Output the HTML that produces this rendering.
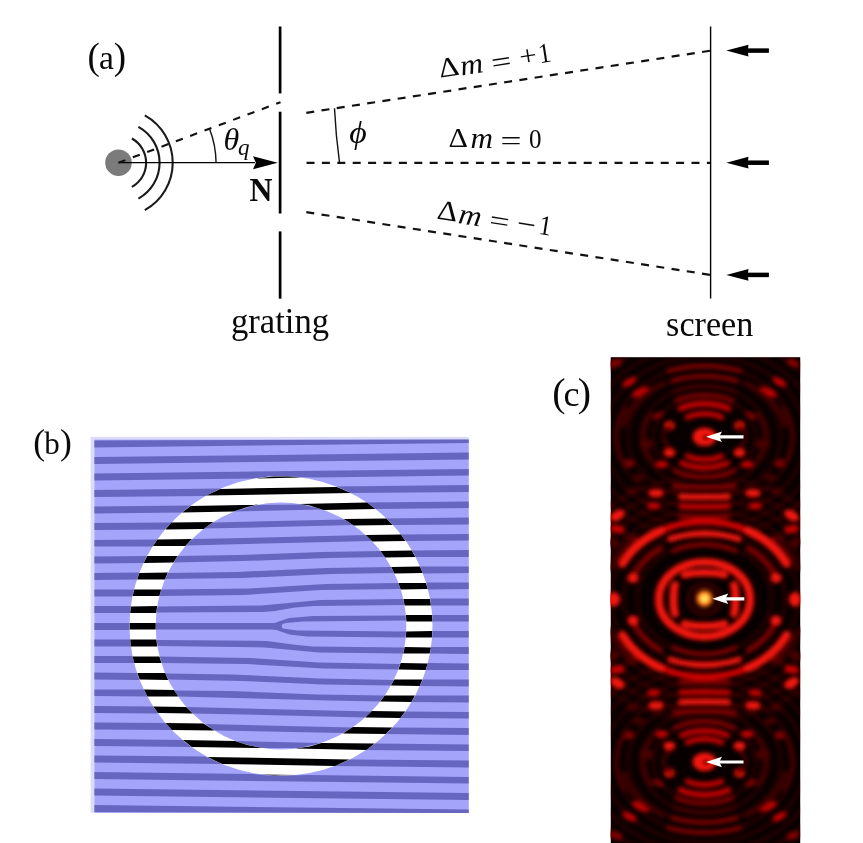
<!DOCTYPE html>
<html><head><meta charset="utf-8">
<style>
html,body{margin:0;padding:0;background:#fff;width:863px;height:843px;overflow:hidden}
svg{display:block}
text{font-family:"Liberation Serif", serif;fill:#0a0a0a}
</style></head><body>
<svg width="863" height="843" viewBox="0 0 863 843">
<rect width="863" height="843" fill="#fff"/>

<circle cx="118.5" cy="162.7" r="13.3" fill="#7b7b7b"/>
<path d="M131.9,138.5 A27.7,27.7 0 0 1 131.9,186.9" fill="none" stroke="#1a1a1a" stroke-width="2.1"/>
<path d="M138.4,126.8 A41.0,41.0 0 0 1 138.4,198.6" fill="none" stroke="#1a1a1a" stroke-width="2.1"/>
<path d="M144.8,115.3 A54.2,54.2 0 0 1 144.8,210.1" fill="none" stroke="#1a1a1a" stroke-width="2.1"/>
<line x1="118.5" y1="162.7" x2="255" y2="162.7" stroke="#000" stroke-width="1.3"/>
<path d="M277.7,162.7 L253,156.3 L255.9,162.7 L253,169.3 Z" fill="#000"/>
<line x1="118.5" y1="162.7" x2="280.5" y2="102.2" stroke="#111" stroke-width="2.1" stroke-dasharray="7.4 7.9"/>
<g stroke="#000" stroke-width="2.7">
<line x1="280.1" y1="26.5" x2="280.1" y2="93.4"/>
<line x1="280.1" y1="111.7" x2="280.1" y2="213.5"/>
<line x1="280.1" y1="231.4" x2="280.1" y2="298.7"/>
</g>
<path d="M216.1,163 A97.5,97.5 0 0 0 209.4,128.6" fill="none" stroke="#111" stroke-width="1.4"/>
<g stroke="#111" stroke-width="2.2" stroke-dasharray="8 7.4">
<line x1="306.5" y1="162.9" x2="710.5" y2="162.9"/>
<line x1="306.3" y1="112.8" x2="710.5" y2="50.7"/>
<line x1="306.3" y1="212.2" x2="710.5" y2="274.9"/>
</g>
<path d="M339.5,162.7 Q335.8,135.5 334.5,108.3" fill="none" stroke="#111" stroke-width="1.4"/>
<line x1="710.6" y1="26.6" x2="710.6" y2="298.5" stroke="#000" stroke-width="1.4"/>
<path d="M726.3,50.6 L748.5,44.7 Q747,50.6 748.5,56.5 Z" fill="#000"/><rect x="746" y="48.35" width="22.9" height="4.5" fill="#000"/>
<path d="M726.3,162.7 L748.5,156.79999999999998 Q747,162.7 748.5,168.6 Z" fill="#000"/><rect x="746" y="160.45" width="22.9" height="4.5" fill="#000"/>
<path d="M726.3,274.9 L748.5,269.0 Q747,274.9 748.5,280.79999999999995 Z" fill="#000"/><rect x="746" y="272.65" width="22.9" height="4.5" fill="#000"/>
<rect x="90.6" y="436.8" width="378.1" height="376.1" fill="#dcdcf8"/>
<rect x="94.5" y="439.6" width="374.2" height="373.3" fill="#a4a4fa"/>
<path d="M94.4,805.1 94.4,812.1 468.7,812.9 468.7,809.4ZM94.4,788.6 94.4,795.6 468.7,799.9 468.7,793.1ZM94.4,772.1 94.4,779.1 468.7,783.6 468.7,776.9 308.9,774.9 273.9,775.9 251.2,773.9ZM335.4,765.9 468.7,767.4 468.7,760.6 350.2,759.4ZM94.4,755.6 94.4,762.6 221.7,763.9 205.2,756.6ZM365.9,750.1 468.7,751.1 468.7,744.4 375.2,743.4ZM235.9,741.1 247.4,744.9 261.4,747.9 298.9,748.1 320.7,742.9ZM94.4,739.1 94.4,745.9 191.4,746.9 182.4,739.9ZM385.9,734.1 468.7,734.9 468.7,728.1 392.4,727.6ZM205.2,724.1 214.2,730.4 343.2,733.1 352.4,727.4ZM94.4,722.4 94.4,729.4 171.9,730.1 165.4,723.1ZM400.7,717.9 468.7,718.6 468.7,711.9 405.7,711.4ZM186.7,707.1 192.7,713.4 365.2,717.4 371.4,711.4ZM94.4,705.9 94.4,712.9 157.9,713.4 152.9,706.4ZM411.7,701.9 468.7,702.4 468.7,695.6 415.4,695.4ZM174.2,690.4 178.2,696.4 329.7,700.6 380.2,701.4 384.4,695.6 317.4,694.4 230.4,691.1ZM94.4,689.4 94.4,696.1 147.2,696.6 143.7,689.6ZM419.9,685.9 468.7,686.4 468.7,679.6 422.7,679.4ZM165.4,673.4 168.2,679.6 242.2,680.9 323.9,684.4 390.7,685.4 393.7,679.9 320.2,678.4 231.7,674.4ZM94.4,672.6 94.4,679.6 139.4,679.9 136.9,672.9ZM425.9,669.9 468.7,670.1 468.7,663.4 427.9,663.1ZM159.7,656.6 161.7,662.9 246.9,664.1 323.7,668.4 398.2,669.4 400.2,663.9 318.9,662.4 248.9,657.9ZM94.4,656.1 94.4,663.1 134.2,663.1 132.4,656.1ZM429.9,653.6 468.7,653.9 468.7,647.1 431.2,647.1ZM156.7,639.9 157.4,646.1 264.7,647.4 319.2,652.4 403.2,653.4 404.2,647.4 312.9,646.4 296.9,645.1 266.9,640.9ZM94.4,639.4 94.4,646.4 130.7,646.4 129.9,639.4ZM432.4,630.9 432.2,637.6 468.7,637.6 468.7,630.9ZM94.4,622.9 94.4,629.9 129.4,629.9 129.4,622.9ZM406.2,620.6 405.7,615.4 313.2,615.9 289.2,617.9 274.4,622.9 155.9,623.1 155.9,629.4 271.9,629.6 276.4,630.1 289.4,634.6 306.7,636.4 405.7,637.4 406.2,631.4 297.2,630.6 282.9,628.6 281.9,627.4 281.9,625.1 282.7,623.9 286.2,622.9 302.9,621.6ZM432.2,614.9 432.7,621.6 468.7,621.6 468.7,614.9ZM94.4,613.1 129.9,613.1 130.7,606.1 94.4,606.1ZM404.4,604.9 403.2,599.1 320.4,600.1 261.4,605.4 157.4,606.4 156.7,612.6 263.9,611.9 274.7,611.1 295.2,607.6 313.9,606.1ZM430.2,598.6 431.2,605.4 468.7,605.4 468.7,598.6ZM133.9,589.4 94.4,589.6 94.4,596.6 132.4,596.4ZM400.4,588.9 398.4,583.1 325.7,584.1 249.7,588.4 161.4,589.6 159.7,595.9 243.9,594.9 320.7,590.1ZM468.7,589.1 468.7,582.4 426.2,582.6 427.9,589.4ZM139.4,572.6 94.4,572.9 94.4,579.9 136.9,579.6ZM394.2,573.1 390.9,567.1 326.2,568.1 236.9,571.9 167.9,572.9 165.2,579.1 243.2,577.9 331.2,573.9ZM420.2,566.6 422.9,573.4 468.7,573.1 468.7,566.4ZM94.4,563.4 143.4,563.1 146.9,556.1 94.4,556.4ZM384.9,557.1 380.4,551.1 322.4,552.1 237.9,555.1 177.9,556.1 173.7,562.4 242.4,561.1 329.2,557.9ZM468.7,556.9 468.7,550.1 411.9,550.4 415.7,557.1ZM157.2,539.4 94.4,539.9 94.4,546.6 152.4,546.4ZM371.9,541.1 365.7,535.1 194.2,539.1 191.9,539.4 186.2,545.4ZM468.7,540.6 468.7,533.9 400.9,534.4 405.9,541.1ZM171.2,522.6 94.4,523.1 94.4,530.1 164.9,529.6ZM352.9,525.1 343.9,519.4 212.7,522.6 204.2,528.6ZM468.7,524.4 468.7,517.6 386.4,518.4 393.2,525.1ZM190.7,505.6 94.4,506.6 94.4,513.6 181.9,512.6ZM322.4,509.6 302.2,504.4 257.2,504.9 234.7,511.4ZM468.7,508.1 468.7,501.4 366.7,502.4 375.9,509.1ZM220.4,488.6 94.4,490.1 94.4,496.9 205.9,495.9ZM468.7,491.9 468.7,485.1 336.7,486.6 351.2,493.1ZM468.7,468.9 94.4,473.6 94.4,480.4 253.7,478.6 273.9,476.1 313.2,477.6 468.7,475.6ZM468.7,452.6 94.4,457.1 94.4,463.9 468.7,459.4ZM94.4,447.4 468.7,443.1 468.7,439.6 94.4,440.4Z" fill="#6666c0"/>
<ellipse cx="281" cy="626" rx="138.4" ry="136.60000000000002" fill="none" stroke="#fff" stroke-width="26.200000000000003"/>
<path d="M260.2,774.4 273.9,775.6 297.7,774.9ZM207.4,756.9 222.2,763.9 335.2,765.9 349.4,759.6ZM295.2,748.6 366.2,749.9 374.7,743.6 321.4,742.9 309.7,746.4ZM182.9,740.1 191.9,746.9 262.9,748.1 247.4,745.1 235.2,740.9ZM342.9,733.4 385.7,734.1 392.2,727.6 352.9,727.1ZM165.7,723.1 171.9,729.9 214.4,730.6 203.4,723.6ZM365.2,717.6 400.4,718.1 405.2,711.6 371.9,711.1ZM153.2,706.4 157.9,713.1 192.7,713.6 186.2,706.9ZM380.2,701.6 411.4,701.9 414.9,695.6 384.7,695.4ZM143.9,689.6 147.4,696.4 178.2,696.6 173.9,690.1ZM390.9,685.6 419.7,685.9 422.4,679.4 394.2,679.4ZM137.4,673.1 139.7,679.6 168.2,679.9 165.2,673.1ZM398.4,669.6 425.7,669.9 427.7,663.4 400.7,663.1ZM132.7,656.4 134.2,662.9 161.4,663.1 159.4,656.4ZM403.2,653.6 429.7,653.6 430.9,647.4 404.7,647.1ZM130.2,639.6 130.9,646.4 157.2,646.4 156.4,639.6ZM406.2,631.6 405.9,637.6 431.9,637.6 432.2,631.1ZM129.7,622.9 129.7,629.6 155.7,629.6 155.7,622.9ZM405.9,615.1 406.4,621.4 432.4,621.4 431.9,615.1ZM157.2,606.1 130.9,606.4 130.2,612.9 156.2,612.9ZM403.4,599.1 404.7,605.4 430.9,605.4 429.9,598.9ZM161.2,589.4 134.2,589.6 132.7,596.1 159.4,596.1ZM398.4,582.9 400.7,589.4 427.7,589.1 425.9,582.9ZM167.9,572.6 139.4,572.9 137.2,579.6 164.9,579.4ZM422.7,573.1 419.9,566.6 391.2,566.9 394.4,573.4ZM177.7,555.9 147.2,556.1 143.7,562.9 173.4,562.6ZM380.4,550.9 385.2,557.4 415.4,557.1 411.7,550.6ZM191.9,539.1 157.4,539.4 152.9,546.1 185.4,545.9ZM365.7,534.9 372.4,541.4 405.4,540.9 400.9,534.6ZM213.2,522.1 171.4,522.6 165.4,529.4 203.7,528.9ZM392.7,524.9 386.4,518.6 343.7,519.1 353.7,525.4ZM258.2,504.6 190.7,505.9 182.2,512.6 233.9,511.6 245.7,507.4ZM375.4,508.9 366.9,502.6 299.2,503.9 309.7,505.6 323.4,509.9ZM350.9,493.1 336.9,486.9 220.2,488.9 206.4,495.6ZM255.4,478.4 301.7,477.6 288.2,476.4 273.9,476.4Z" fill="#000"/>
<defs><clipPath id="cc"><rect x="610.8" y="357.2" width="189.4" height="485.8"/></clipPath>
<filter id="bl" x="-5%" y="-5%" width="110%" height="110%"><feGaussianBlur stdDeviation="2.0"/></filter>
<radialGradient id="ys"><stop offset="0" stop-color="#ffffb0"/><stop offset="0.35" stop-color="#ffd030"/><stop offset="0.7" stop-color="#ff5000"/><stop offset="1" stop-color="#ff1400" stop-opacity="0"/></radialGradient></defs>
<rect x="610.8" y="357.2" width="189.4" height="485.8" fill="#080000"/>
<g clip-path="url(#cc)"><g filter="url(#bl)">
<ellipse cx="704.5" cy="436.8" rx="51.2" ry="41" fill="none" stroke="#900000" stroke-width="4" opacity="0.22"/>
<ellipse cx="704.5" cy="436.8" rx="63.8" ry="51" fill="none" stroke="#900000" stroke-width="4" opacity="0.22"/>
<ellipse cx="704.5" cy="436.8" rx="76.2" ry="61" fill="none" stroke="#900000" stroke-width="4" opacity="0.22"/>
<ellipse cx="704.5" cy="436.8" rx="88.8" ry="71" fill="none" stroke="#900000" stroke-width="4" opacity="0.22"/>
<ellipse cx="704.5" cy="436.8" rx="101.2" ry="81" fill="none" stroke="#900000" stroke-width="4" opacity="0.22"/>
<ellipse cx="704.5" cy="436.8" rx="113.8" ry="91" fill="none" stroke="#900000" stroke-width="4" opacity="0.22"/>
<ellipse cx="704.5" cy="436.8" rx="126.2" ry="101" fill="none" stroke="#900000" stroke-width="4" opacity="0.22"/>
<ellipse cx="704.5" cy="761.8" rx="51.2" ry="41" fill="none" stroke="#900000" stroke-width="4" opacity="0.22"/>
<ellipse cx="704.5" cy="761.8" rx="63.8" ry="51" fill="none" stroke="#900000" stroke-width="4" opacity="0.22"/>
<ellipse cx="704.5" cy="761.8" rx="76.2" ry="61" fill="none" stroke="#900000" stroke-width="4" opacity="0.22"/>
<ellipse cx="704.5" cy="761.8" rx="88.8" ry="71" fill="none" stroke="#900000" stroke-width="4" opacity="0.22"/>
<ellipse cx="704.5" cy="761.8" rx="101.2" ry="81" fill="none" stroke="#900000" stroke-width="4" opacity="0.22"/>
<ellipse cx="704.5" cy="761.8" rx="113.8" ry="91" fill="none" stroke="#900000" stroke-width="4" opacity="0.22"/>
<ellipse cx="704.5" cy="761.8" rx="126.2" ry="101" fill="none" stroke="#900000" stroke-width="4" opacity="0.22"/>
<ellipse cx="704.5" cy="598.5" rx="67.1" ry="55" fill="none" stroke="#900000" stroke-width="4" opacity="0.22"/>
<ellipse cx="704.5" cy="598.5" rx="80.5" ry="66" fill="none" stroke="#900000" stroke-width="4" opacity="0.22"/>
<ellipse cx="704.5" cy="598.5" rx="93.9" ry="77" fill="none" stroke="#900000" stroke-width="4" opacity="0.22"/>
<ellipse cx="704.5" cy="598.5" rx="107.4" ry="88" fill="none" stroke="#900000" stroke-width="4" opacity="0.22"/>
<ellipse cx="704.5" cy="598.5" rx="120.8" ry="99" fill="none" stroke="#900000" stroke-width="4" opacity="0.22"/>
<ellipse cx="704.5" cy="598.5" rx="134.2" ry="110" fill="none" stroke="#900000" stroke-width="4" opacity="0.22"/>
<ellipse cx="704.5" cy="598.5" rx="147.6" ry="121" fill="none" stroke="#900000" stroke-width="4" opacity="0.22"/>
<path d="M720.5,598.5 A16,14 0 0 0 704.5,584.5" fill="none" stroke="#4a0000" stroke-width="3" stroke-linecap="round"/>
<path d="M704.5,614.1 A16,14 0 0 0 720.5,600.1" fill="none" stroke="#4a0000" stroke-width="3" stroke-linecap="round"/>
<path d="M704.5,584.5 A16,14 0 0 0 688.5,598.5" fill="none" stroke="#4a0000" stroke-width="3" stroke-linecap="round"/>
<path d="M688.5,600.1 A16,14 0 0 0 704.5,614.1" fill="none" stroke="#4a0000" stroke-width="3" stroke-linecap="round"/>
<path d="M704.5,572.5 Q716.5,572.5 724.5,575.0" fill="none" stroke="#f41208" stroke-width="7.5" stroke-linecap="round"/>
<path d="M704.5,626.1 Q716.5,626.1 724.5,623.6" fill="none" stroke="#f41208" stroke-width="7.5" stroke-linecap="round"/>
<path d="M704.5,572.5 Q692.5,572.5 684.5,575.0" fill="none" stroke="#f41208" stroke-width="7.5" stroke-linecap="round"/>
<path d="M704.5,626.1 Q692.5,626.1 684.5,623.6" fill="none" stroke="#f41208" stroke-width="7.5" stroke-linecap="round"/>
<path d="M735.5,598.5 Q735.5,589.5 734.0,585.0" fill="none" stroke="#f41208" stroke-width="8" stroke-linecap="round"/>
<path d="M735.5,600.1 Q735.5,609.1 734.0,613.6" fill="none" stroke="#f41208" stroke-width="8" stroke-linecap="round"/>
<path d="M673.5,598.5 Q673.5,589.5 675.0,585.0" fill="none" stroke="#f41208" stroke-width="8" stroke-linecap="round"/>
<path d="M673.5,600.1 Q673.5,609.1 675.0,613.6" fill="none" stroke="#f41208" stroke-width="8" stroke-linecap="round"/>
<path d="M750.0,598.5 A45.5,36.5 0 0 0 704.5,562.0" fill="none" stroke="#f41208" stroke-width="8" stroke-linecap="round"/>
<path d="M704.5,636.6 A45.5,36.5 0 0 0 750.0,600.1" fill="none" stroke="#f41208" stroke-width="8" stroke-linecap="round"/>
<path d="M704.5,562.0 A45.5,36.5 0 0 0 659.0,598.5" fill="none" stroke="#f41208" stroke-width="8" stroke-linecap="round"/>
<path d="M659.0,600.1 A45.5,36.5 0 0 0 704.5,636.6" fill="none" stroke="#f41208" stroke-width="8" stroke-linecap="round"/>
<path d="M738.7,539.1 A84,65 0 0 0 704.5,533.5" fill="none" stroke="#f41208" stroke-width="6" stroke-linecap="round"/>
<path d="M704.5,665.1 A84,65 0 0 0 738.7,659.5" fill="none" stroke="#f41208" stroke-width="6" stroke-linecap="round"/>
<path d="M704.5,533.5 A84,65 0 0 0 670.3,539.1" fill="none" stroke="#f41208" stroke-width="6" stroke-linecap="round"/>
<path d="M670.3,659.5 A84,65 0 0 0 704.5,665.1" fill="none" stroke="#f41208" stroke-width="6" stroke-linecap="round"/>
<path d="M773.4,572.7 A76,61 0 0 0 748.1,548.5" fill="none" stroke="#860000" stroke-width="5" stroke-linecap="round"/>
<path d="M748.1,650.1 A76,61 0 0 0 773.4,625.9" fill="none" stroke="#860000" stroke-width="5" stroke-linecap="round"/>
<path d="M660.9,548.5 A76,61 0 0 0 635.6,572.7" fill="none" stroke="#860000" stroke-width="5" stroke-linecap="round"/>
<path d="M635.6,625.9 A76,61 0 0 0 660.9,650.1" fill="none" stroke="#860000" stroke-width="5" stroke-linecap="round"/>
<ellipse cx="776.0" cy="578.0" rx="5.5" ry="5" fill="#f41208"/>
<ellipse cx="776.0" cy="620.6" rx="5.5" ry="5" fill="#f41208"/>
<ellipse cx="633.0" cy="578.0" rx="5.5" ry="5" fill="#f41208"/>
<ellipse cx="633.0" cy="620.6" rx="5.5" ry="5" fill="#f41208"/>
<path d="M747.7,530.5 A92,77 0 0 0 704.5,521.5" fill="none" stroke="#dc0606" stroke-width="6" stroke-linecap="round"/>
<path d="M704.5,677.1 A92,77 0 0 0 747.7,668.1" fill="none" stroke="#dc0606" stroke-width="6" stroke-linecap="round"/>
<path d="M704.5,521.5 A92,77 0 0 0 661.3,530.5" fill="none" stroke="#dc0606" stroke-width="6" stroke-linecap="round"/>
<path d="M661.3,668.1 A92,77 0 0 0 704.5,677.1" fill="none" stroke="#dc0606" stroke-width="6" stroke-linecap="round"/>
<path d="M786.5,563.5 A92,77 0 0 0 747.7,530.5" fill="none" stroke="#f41208" stroke-width="8.5" stroke-linecap="round"/>
<path d="M747.7,668.1 A92,77 0 0 0 786.5,635.1" fill="none" stroke="#f41208" stroke-width="8.5" stroke-linecap="round"/>
<path d="M661.3,530.5 A92,77 0 0 0 622.5,563.5" fill="none" stroke="#f41208" stroke-width="8.5" stroke-linecap="round"/>
<path d="M622.5,635.1 A92,77 0 0 0 661.3,668.1" fill="none" stroke="#f41208" stroke-width="8.5" stroke-linecap="round"/>
<ellipse cx="795.0" cy="598.5" rx="6" ry="6.5" fill="#f41208"/>
<ellipse cx="795.0" cy="600.1" rx="6" ry="6.5" fill="#f41208"/>
<ellipse cx="614.0" cy="598.5" rx="6" ry="6.5" fill="#f41208"/>
<ellipse cx="614.0" cy="600.1" rx="6" ry="6.5" fill="#f41208"/>
<path d="M735.5,550.8 A66,54 0 0 0 704.5,544.5" fill="none" stroke="#860000" stroke-width="4.5" stroke-linecap="round"/>
<path d="M704.5,654.1 A66,54 0 0 0 735.5,647.8" fill="none" stroke="#860000" stroke-width="4.5" stroke-linecap="round"/>
<path d="M704.5,544.5 A66,54 0 0 0 673.5,550.8" fill="none" stroke="#860000" stroke-width="4.5" stroke-linecap="round"/>
<path d="M673.5,647.8 A66,54 0 0 0 704.5,654.1" fill="none" stroke="#860000" stroke-width="4.5" stroke-linecap="round"/>
<ellipse cx="789.0" cy="529.7" rx="5" ry="4" fill="#c80404"/>
<ellipse cx="789.0" cy="668.9" rx="5" ry="4" fill="#c80404"/>
<ellipse cx="620.0" cy="529.7" rx="5" ry="4" fill="#c80404"/>
<ellipse cx="620.0" cy="668.9" rx="5" ry="4" fill="#c80404"/>
<ellipse cx="777.0" cy="538.0" rx="5" ry="4" fill="#860000"/>
<ellipse cx="777.0" cy="660.6" rx="5" ry="4" fill="#860000"/>
<ellipse cx="632.0" cy="538.0" rx="5" ry="4" fill="#860000"/>
<ellipse cx="632.0" cy="660.6" rx="5" ry="4" fill="#860000"/>
<path d="M721.5,417.3 A32.199999999999996,23 0 0 0 704.5,413.8" fill="none" stroke="#c80404" stroke-width="5.5" stroke-linecap="round"/>
<path d="M704.5,784.8 A32.199999999999996,23 0 0 0 721.5,781.3" fill="none" stroke="#c80404" stroke-width="5.5" stroke-linecap="round"/>
<path d="M704.5,413.8 A32.199999999999996,23 0 0 0 687.5,417.3" fill="none" stroke="#c80404" stroke-width="5.5" stroke-linecap="round"/>
<path d="M687.5,781.3 A32.199999999999996,23 0 0 0 704.5,784.8" fill="none" stroke="#c80404" stroke-width="5.5" stroke-linecap="round"/>
<path d="M728.5,408.6 A46.199999999999996,33 0 0 0 704.5,403.8" fill="none" stroke="#c80404" stroke-width="6" stroke-linecap="round"/>
<path d="M704.5,794.8 A46.199999999999996,33 0 0 0 728.5,790.0" fill="none" stroke="#c80404" stroke-width="6" stroke-linecap="round"/>
<path d="M704.5,403.8 A46.199999999999996,33 0 0 0 680.5,408.6" fill="none" stroke="#c80404" stroke-width="6" stroke-linecap="round"/>
<path d="M680.5,790.0 A46.199999999999996,33 0 0 0 704.5,794.8" fill="none" stroke="#c80404" stroke-width="6" stroke-linecap="round"/>
<path d="M732.5,400.4 A58.099999999999994,41.5 0 0 0 704.5,395.3" fill="none" stroke="#860000" stroke-width="4.5" stroke-linecap="round"/>
<path d="M704.5,803.3 A58.099999999999994,41.5 0 0 0 732.5,798.2" fill="none" stroke="#860000" stroke-width="4.5" stroke-linecap="round"/>
<path d="M704.5,395.3 A58.099999999999994,41.5 0 0 0 676.5,400.4" fill="none" stroke="#860000" stroke-width="4.5" stroke-linecap="round"/>
<path d="M676.5,798.2 A58.099999999999994,41.5 0 0 0 704.5,803.3" fill="none" stroke="#860000" stroke-width="4.5" stroke-linecap="round"/>
<path d="M734.5,391.1 A70.69999999999999,50.5 0 0 0 704.5,386.3" fill="none" stroke="#4a0000" stroke-width="4" stroke-linecap="round"/>
<path d="M704.5,812.3 A70.69999999999999,50.5 0 0 0 734.5,807.5" fill="none" stroke="#4a0000" stroke-width="4" stroke-linecap="round"/>
<path d="M704.5,386.3 A70.69999999999999,50.5 0 0 0 674.5,391.1" fill="none" stroke="#4a0000" stroke-width="4" stroke-linecap="round"/>
<path d="M674.5,807.5 A70.69999999999999,50.5 0 0 0 704.5,812.3" fill="none" stroke="#4a0000" stroke-width="4" stroke-linecap="round"/>
<path d="M736.5,380.8 A84.69999999999999,60.5 0 0 0 704.5,376.3" fill="none" stroke="#860000" stroke-width="4.5" stroke-linecap="round"/>
<path d="M704.5,822.3 A84.69999999999999,60.5 0 0 0 736.5,817.8" fill="none" stroke="#860000" stroke-width="4.5" stroke-linecap="round"/>
<path d="M704.5,376.3 A84.69999999999999,60.5 0 0 0 672.5,380.8" fill="none" stroke="#860000" stroke-width="4.5" stroke-linecap="round"/>
<path d="M672.5,817.8 A84.69999999999999,60.5 0 0 0 704.5,822.3" fill="none" stroke="#860000" stroke-width="4.5" stroke-linecap="round"/>
<path d="M740.5,370.8 A99.11999999999999,70.8 0 0 0 704.5,366.0" fill="none" stroke="#860000" stroke-width="4.5" stroke-linecap="round"/>
<path d="M704.5,832.6 A99.11999999999999,70.8 0 0 0 740.5,827.8" fill="none" stroke="#860000" stroke-width="4.5" stroke-linecap="round"/>
<path d="M704.5,366.0 A99.11999999999999,70.8 0 0 0 668.5,370.8" fill="none" stroke="#860000" stroke-width="4.5" stroke-linecap="round"/>
<path d="M668.5,827.8 A99.11999999999999,70.8 0 0 0 704.5,832.6" fill="none" stroke="#860000" stroke-width="4.5" stroke-linecap="round"/>
<path d="M704.5,459.5 A31.779999999999998,22.7 0 0 0 721.5,456.0" fill="none" stroke="#c80404" stroke-width="5.5" stroke-linecap="round"/>
<path d="M721.5,742.6 A31.779999999999998,22.7 0 0 0 704.5,739.1" fill="none" stroke="#c80404" stroke-width="5.5" stroke-linecap="round"/>
<path d="M687.5,456.0 A31.779999999999998,22.7 0 0 0 704.5,459.5" fill="none" stroke="#c80404" stroke-width="5.5" stroke-linecap="round"/>
<path d="M704.5,739.1 A31.779999999999998,22.7 0 0 0 687.5,742.6" fill="none" stroke="#c80404" stroke-width="5.5" stroke-linecap="round"/>
<path d="M704.5,467.8 A43.4,31 0 0 0 727.5,463.1" fill="none" stroke="#c80404" stroke-width="5.5" stroke-linecap="round"/>
<path d="M727.5,735.5 A43.4,31 0 0 0 704.5,730.8" fill="none" stroke="#c80404" stroke-width="5.5" stroke-linecap="round"/>
<path d="M681.5,463.1 A43.4,31 0 0 0 704.5,467.8" fill="none" stroke="#c80404" stroke-width="5.5" stroke-linecap="round"/>
<path d="M704.5,730.8 A43.4,31 0 0 0 681.5,735.5" fill="none" stroke="#c80404" stroke-width="5.5" stroke-linecap="round"/>
<path d="M704.5,476.8 A56.0,40 0 0 0 734.5,470.6" fill="none" stroke="#860000" stroke-width="4.5" stroke-linecap="round"/>
<path d="M734.5,728.0 A56.0,40 0 0 0 704.5,721.8" fill="none" stroke="#860000" stroke-width="4.5" stroke-linecap="round"/>
<path d="M674.5,470.6 A56.0,40 0 0 0 704.5,476.8" fill="none" stroke="#860000" stroke-width="4.5" stroke-linecap="round"/>
<path d="M704.5,721.8 A56.0,40 0 0 0 674.5,728.0" fill="none" stroke="#860000" stroke-width="4.5" stroke-linecap="round"/>
<path d="M704.5,487.0 A150.60000000000002,50.2 0 0 0 734.5,486.0" fill="none" stroke="#860000" stroke-width="5" stroke-linecap="round"/>
<path d="M734.5,712.6 A150.60000000000002,50.2 0 0 0 704.5,711.6" fill="none" stroke="#860000" stroke-width="5" stroke-linecap="round"/>
<path d="M674.5,486.0 A150.60000000000002,50.2 0 0 0 704.5,487.0" fill="none" stroke="#860000" stroke-width="5" stroke-linecap="round"/>
<path d="M704.5,711.6 A150.60000000000002,50.2 0 0 0 674.5,712.6" fill="none" stroke="#860000" stroke-width="5" stroke-linecap="round"/>
<path d="M704.5,496.8 A240,60 0 0 0 728.0,496.5" fill="none" stroke="#f41208" stroke-width="6" stroke-linecap="round"/>
<path d="M728.0,702.1 A240,60 0 0 0 704.5,701.8" fill="none" stroke="#f41208" stroke-width="6" stroke-linecap="round"/>
<path d="M681.0,496.5 A240,60 0 0 0 704.5,496.8" fill="none" stroke="#f41208" stroke-width="6" stroke-linecap="round"/>
<path d="M704.5,701.8 A240,60 0 0 0 681.0,702.1" fill="none" stroke="#f41208" stroke-width="6" stroke-linecap="round"/>
<path d="M704.5,506.5 A278.8,69.7 0 0 0 728.0,506.3" fill="none" stroke="#c80404" stroke-width="5.5" stroke-linecap="round"/>
<path d="M728.0,692.3 A278.8,69.7 0 0 0 704.5,692.1" fill="none" stroke="#c80404" stroke-width="5.5" stroke-linecap="round"/>
<path d="M681.0,506.3 A278.8,69.7 0 0 0 704.5,506.5" fill="none" stroke="#c80404" stroke-width="5.5" stroke-linecap="round"/>
<path d="M704.5,692.1 A278.8,69.7 0 0 0 681.0,692.3" fill="none" stroke="#c80404" stroke-width="5.5" stroke-linecap="round"/>
<path d="M704.5,516.6 A319.2,79.8 0 0 0 728.5,516.4" fill="none" stroke="#860000" stroke-width="4.5" stroke-linecap="round"/>
<path d="M728.5,682.2 A319.2,79.8 0 0 0 704.5,682.0" fill="none" stroke="#860000" stroke-width="4.5" stroke-linecap="round"/>
<path d="M680.5,516.4 A319.2,79.8 0 0 0 704.5,516.6" fill="none" stroke="#860000" stroke-width="4.5" stroke-linecap="round"/>
<path d="M704.5,682.0 A319.2,79.8 0 0 0 680.5,682.2" fill="none" stroke="#860000" stroke-width="4.5" stroke-linecap="round"/>
<ellipse cx="739.5" cy="452.6" rx="6" ry="4.5" fill="#f41208"/>
<ellipse cx="739.5" cy="746.0" rx="6" ry="4.5" fill="#f41208"/>
<ellipse cx="669.5" cy="452.6" rx="6" ry="4.5" fill="#f41208"/>
<ellipse cx="669.5" cy="746.0" rx="6" ry="4.5" fill="#f41208"/>
<ellipse cx="747.5" cy="464.6" rx="7" ry="3.5" fill="#c80404"/>
<ellipse cx="747.5" cy="734.0" rx="7" ry="3.5" fill="#c80404"/>
<ellipse cx="661.5" cy="464.6" rx="7" ry="3.5" fill="#c80404"/>
<ellipse cx="661.5" cy="734.0" rx="7" ry="3.5" fill="#c80404"/>
<ellipse cx="753.0" cy="493.0" rx="8" ry="4" fill="#f41208"/>
<ellipse cx="753.0" cy="705.6" rx="8" ry="4" fill="#f41208"/>
<ellipse cx="656.0" cy="493.0" rx="8" ry="4" fill="#f41208"/>
<ellipse cx="656.0" cy="705.6" rx="8" ry="4" fill="#f41208"/>
<ellipse cx="755.4" cy="505.7" rx="7" ry="3.5" fill="#c80404"/>
<ellipse cx="755.4" cy="692.9" rx="7" ry="3.5" fill="#c80404"/>
<ellipse cx="653.6" cy="505.7" rx="7" ry="3.5" fill="#c80404"/>
<ellipse cx="653.6" cy="692.9" rx="7" ry="3.5" fill="#c80404"/>
<ellipse cx="780.7" cy="463.5" rx="6" ry="4" fill="#860000"/>
<ellipse cx="780.7" cy="735.1" rx="6" ry="4" fill="#860000"/>
<ellipse cx="628.3" cy="463.5" rx="6" ry="4" fill="#860000"/>
<ellipse cx="628.3" cy="735.1" rx="6" ry="4" fill="#860000"/>
<ellipse cx="770.0" cy="477.4" rx="6" ry="3" fill="#4a0000"/>
<ellipse cx="770.0" cy="721.2" rx="6" ry="3" fill="#4a0000"/>
<ellipse cx="639.0" cy="477.4" rx="6" ry="3" fill="#4a0000"/>
<ellipse cx="639.0" cy="721.2" rx="6" ry="3" fill="#4a0000"/>
<ellipse cx="777.0" cy="490.6" rx="6" ry="3" fill="#4a0000"/>
<ellipse cx="777.0" cy="708.0" rx="6" ry="3" fill="#4a0000"/>
<ellipse cx="632.0" cy="490.6" rx="6" ry="3" fill="#4a0000"/>
<ellipse cx="632.0" cy="708.0" rx="6" ry="3" fill="#4a0000"/>
<ellipse cx="791.6" cy="515.5" rx="8" ry="5" fill="#f41208" transform="rotate(30.0 791.6 515.5)"/>
<ellipse cx="791.6" cy="683.1" rx="8" ry="5" fill="#f41208" transform="rotate(-30.0 791.6 683.1)"/>
<ellipse cx="617.4" cy="515.5" rx="8" ry="5" fill="#f41208" transform="rotate(-30.0 617.4 515.5)"/>
<ellipse cx="617.4" cy="683.1" rx="8" ry="5" fill="#f41208" transform="rotate(30.0 617.4 683.1)"/>
<ellipse cx="794.0" cy="528.5" rx="5" ry="4" fill="#c80404"/>
<ellipse cx="794.0" cy="670.1" rx="5" ry="4" fill="#c80404"/>
<ellipse cx="615.0" cy="528.5" rx="5" ry="4" fill="#c80404"/>
<ellipse cx="615.0" cy="670.1" rx="5" ry="4" fill="#c80404"/>
<ellipse cx="739.5" cy="425.5" rx="5.5" ry="4.5" fill="#f41208"/>
<ellipse cx="739.5" cy="773.1" rx="5.5" ry="4.5" fill="#f41208"/>
<ellipse cx="669.5" cy="425.5" rx="5.5" ry="4.5" fill="#f41208"/>
<ellipse cx="669.5" cy="773.1" rx="5.5" ry="4.5" fill="#f41208"/>
<ellipse cx="750.6" cy="415.5" rx="6" ry="3" fill="#860000" transform="rotate(30.0 750.6 415.5)"/>
<ellipse cx="750.6" cy="783.1" rx="6" ry="3" fill="#860000" transform="rotate(-30.0 750.6 783.1)"/>
<ellipse cx="658.4" cy="415.5" rx="6" ry="3" fill="#860000" transform="rotate(-30.0 658.4 415.5)"/>
<ellipse cx="658.4" cy="783.1" rx="6" ry="3" fill="#860000" transform="rotate(30.0 658.4 783.1)"/>
<ellipse cx="768.5" cy="392.0" rx="9.5" ry="3.5" fill="#c80404" transform="rotate(25.0 768.5 392.0)"/>
<ellipse cx="768.5" cy="806.6" rx="9.5" ry="3.5" fill="#c80404" transform="rotate(-25.0 768.5 806.6)"/>
<ellipse cx="640.5" cy="392.0" rx="9.5" ry="3.5" fill="#c80404" transform="rotate(-25.0 640.5 392.0)"/>
<ellipse cx="640.5" cy="806.6" rx="9.5" ry="3.5" fill="#c80404" transform="rotate(25.0 640.5 806.6)"/>
<ellipse cx="779.5" cy="382.0" rx="8" ry="3.5" fill="#c80404" transform="rotate(30.0 779.5 382.0)"/>
<ellipse cx="779.5" cy="816.6" rx="8" ry="3.5" fill="#c80404" transform="rotate(-30.0 779.5 816.6)"/>
<ellipse cx="629.5" cy="382.0" rx="8" ry="3.5" fill="#c80404" transform="rotate(-30.0 629.5 382.0)"/>
<ellipse cx="629.5" cy="816.6" rx="8" ry="3.5" fill="#c80404" transform="rotate(30.0 629.5 816.6)"/>
<ellipse cx="793.0" cy="363.0" rx="7" ry="4" fill="#860000" transform="rotate(20.0 793.0 363.0)"/>
<ellipse cx="793.0" cy="835.6" rx="7" ry="4" fill="#860000" transform="rotate(-20.0 793.0 835.6)"/>
<ellipse cx="616.0" cy="363.0" rx="7" ry="4" fill="#860000" transform="rotate(-20.0 616.0 363.0)"/>
<ellipse cx="616.0" cy="835.6" rx="7" ry="4" fill="#860000" transform="rotate(20.0 616.0 835.6)"/>
<path d="M738.1,448.3 A41,20 0 0 0 738.1,425.3" fill="none" stroke="#4a0000" stroke-width="3.5" stroke-linecap="round"/>
<path d="M738.1,773.3 A41,20 0 0 0 738.1,750.3" fill="none" stroke="#4a0000" stroke-width="3.5" stroke-linecap="round"/>
<path d="M670.9,425.3 A41,20 0 0 0 670.9,448.3" fill="none" stroke="#4a0000" stroke-width="3.5" stroke-linecap="round"/>
<path d="M670.9,750.3 A41,20 0 0 0 670.9,773.3" fill="none" stroke="#4a0000" stroke-width="3.5" stroke-linecap="round"/>
<path d="M757.3,459.8 A61,46 0 0 0 757.3,413.8" fill="none" stroke="#4a0000" stroke-width="4" stroke-linecap="round"/>
<path d="M757.3,784.8 A61,46 0 0 0 757.3,738.8" fill="none" stroke="#4a0000" stroke-width="4" stroke-linecap="round"/>
<path d="M651.7,413.8 A61,46 0 0 0 651.7,459.8" fill="none" stroke="#4a0000" stroke-width="4" stroke-linecap="round"/>
<path d="M651.7,738.8 A61,46 0 0 0 651.7,784.8" fill="none" stroke="#4a0000" stroke-width="4" stroke-linecap="round"/>
<path d="M785.3,426.0 A82,62 0 0 0 745.5,383.1" fill="none" stroke="#4a0000" stroke-width="4" stroke-linecap="round"/>
<path d="M745.5,815.5 A82,62 0 0 0 785.3,772.6" fill="none" stroke="#4a0000" stroke-width="4" stroke-linecap="round"/>
<path d="M663.5,383.1 A82,62 0 0 0 623.7,426.0" fill="none" stroke="#4a0000" stroke-width="4" stroke-linecap="round"/>
<path d="M623.7,772.6 A82,62 0 0 0 663.5,815.5" fill="none" stroke="#4a0000" stroke-width="4" stroke-linecap="round"/>
<path d="M784.3,464.7 A88,66 0 0 0 784.3,408.9" fill="none" stroke="#4a0000" stroke-width="4.5" stroke-linecap="round"/>
<path d="M784.3,789.7 A88,66 0 0 0 784.3,733.9" fill="none" stroke="#4a0000" stroke-width="4.5" stroke-linecap="round"/>
<path d="M624.7,408.9 A88,66 0 0 0 624.7,464.7" fill="none" stroke="#4a0000" stroke-width="4.5" stroke-linecap="round"/>
<path d="M624.7,733.9 A88,66 0 0 0 624.7,789.7" fill="none" stroke="#4a0000" stroke-width="4.5" stroke-linecap="round"/>
<ellipse cx="763.0" cy="444.0" rx="7" ry="5" fill="#4a0000"/>
<ellipse cx="763.0" cy="754.6" rx="7" ry="5" fill="#4a0000"/>
<ellipse cx="646.0" cy="444.0" rx="7" ry="5" fill="#4a0000"/>
<ellipse cx="646.0" cy="754.6" rx="7" ry="5" fill="#4a0000"/>
<path d="M798.5,569.1 A100,86 0 0 0 775.2,537.7" fill="none" stroke="#4a0000" stroke-width="4" stroke-linecap="round"/>
<path d="M775.2,660.9 A100,86 0 0 0 798.5,629.5" fill="none" stroke="#4a0000" stroke-width="4" stroke-linecap="round"/>
<path d="M633.8,537.7 A100,86 0 0 0 610.5,569.1" fill="none" stroke="#4a0000" stroke-width="4" stroke-linecap="round"/>
<path d="M610.5,629.5 A100,86 0 0 0 633.8,660.9" fill="none" stroke="#4a0000" stroke-width="4" stroke-linecap="round"/>
<ellipse cx="778.0" cy="537.0" rx="7" ry="3" fill="#4a0000"/>
<ellipse cx="778.0" cy="661.6" rx="7" ry="3" fill="#4a0000"/>
<ellipse cx="631.0" cy="537.0" rx="7" ry="3" fill="#4a0000"/>
<ellipse cx="631.0" cy="661.6" rx="7" ry="3" fill="#4a0000"/>
<ellipse cx="795.0" cy="543.0" rx="5" ry="5" fill="#4a0000"/>
<ellipse cx="795.0" cy="655.6" rx="5" ry="5" fill="#4a0000"/>
<ellipse cx="614.0" cy="543.0" rx="5" ry="5" fill="#4a0000"/>
<ellipse cx="614.0" cy="655.6" rx="5" ry="5" fill="#4a0000"/>
<ellipse cx="704.5" cy="436.8" rx="12" ry="9.3" fill="#f41208"/><ellipse cx="706" cy="437.5" rx="3.5" ry="2.6" fill="#500000"/>
<ellipse cx="704.5" cy="761.8" rx="12" ry="9.3" fill="#f41208"/><ellipse cx="706" cy="762.3" rx="3.5" ry="2.6" fill="#500000"/>
<circle cx="704.5" cy="598.5" r="10" fill="url(#ys)"/>
</g>
<path d="M706,436.8 L722,431.6 L720,435.2 L743.5,435.2 L743.5,438.40000000000003 L720,438.40000000000003 L722,442.0 Z" fill="#fff"/><path d="M712.3,598.8 L728.3,593.5999999999999 L726.3,597.1999999999999 L744.3,597.1999999999999 L744.3,600.4 L726.3,600.4 L728.3,604.0 Z" fill="#fff"/><path d="M706,762 L722,756.8 L720,760.4 L743.5,760.4 L743.5,763.6 L720,763.6 L722,767.2 Z" fill="#fff"/>
</g>

<text x="87.5" y="68.7" font-size="37">(</text>
<text x="99.1" y="68.7" font-size="33.5">a</text>
<text x="113.8" y="68.7" font-size="37">)</text>
<text x="33.2" y="453.7" font-size="35.5">(</text>
<text x="44.2" y="453.7" font-size="31">b</text>
<text x="59.9" y="453.7" font-size="35.5">)</text>
<text x="552.2" y="406.3" font-size="40">(</text>
<text x="563.6" y="406.3" font-size="36">c</text>
<text x="577.8" y="406.3" font-size="40">)</text>
<text x="230.9" y="333.4" font-size="35" textLength="98.2" lengthAdjust="spacingAndGlyphs">grating</text>
<text x="666.1" y="336.0" font-size="36.5" textLength="87.2" lengthAdjust="spacingAndGlyphs">screen</text>
<text x="249.5" y="201.0" font-size="33" font-weight="bold" textLength="23" lengthAdjust="spacingAndGlyphs">N</text>
<text x="223.5" y="150.3" font-size="32" font-style="italic">θ</text>
<text x="238.0" y="154.5" font-size="23" font-style="italic">q</text>
<text x="349.3" y="142.6" font-size="32" font-style="italic" textLength="17.5" lengthAdjust="spacingAndGlyphs">ϕ</text>
<text x="448.5" y="147.2" font-size="28" textLength="19.5" lengthAdjust="spacingAndGlyphs">Δ</text>
<text x="470.5" y="148.3" font-size="29" font-style="italic" textLength="22.5" lengthAdjust="spacingAndGlyphs">m</text>
<text x="500.6" y="150.2" font-size="28" textLength="21" lengthAdjust="spacingAndGlyphs">=</text>
<text x="529.0" y="148.3" font-size="28" textLength="12.5" lengthAdjust="spacingAndGlyphs">0</text>
<g transform="translate(440.0,77.8) rotate(-8.8)"><text x="0" y="0" font-size="28" textLength="20.5" lengthAdjust="spacingAndGlyphs">Δ</text><text x="21.5" y="1" font-size="29" font-style="italic" textLength="23" lengthAdjust="spacingAndGlyphs">m</text><text x="53" y="2.8" font-size="28" textLength="20" lengthAdjust="spacingAndGlyphs">=</text><text x="81.5" y="1" font-size="28" textLength="17.5" lengthAdjust="spacingAndGlyphs">+</text><text x="100.8" y="1" font-size="28" textLength="12.5" lengthAdjust="spacingAndGlyphs">1</text></g>
<g transform="translate(436.3,218.6) rotate(8.8)"><text x="0" y="0" font-size="28" textLength="20.5" lengthAdjust="spacingAndGlyphs">Δ</text><text x="21.5" y="1" font-size="29" font-style="italic" textLength="23" lengthAdjust="spacingAndGlyphs">m</text><text x="53" y="2.0" font-size="28" textLength="20" lengthAdjust="spacingAndGlyphs">=</text><text x="80.5" y="1" font-size="28" textLength="19" lengthAdjust="spacingAndGlyphs">−</text><text x="102.5" y="-0.5" font-size="28" textLength="12.5" lengthAdjust="spacingAndGlyphs">1</text></g>
</svg>
</body></html>
